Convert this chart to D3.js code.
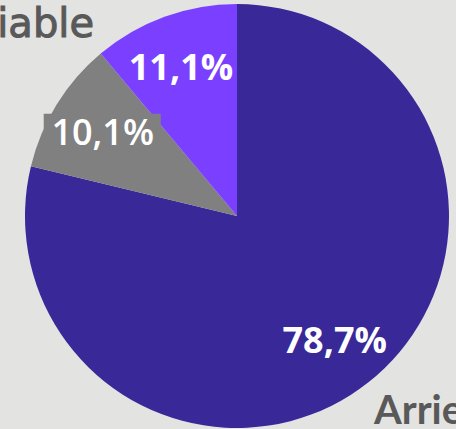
<!DOCTYPE html>
<html>
<head>
<meta charset="utf-8">
<script src="https://cdn.jsdelivr.net/npm/d3@7"></script>
<style>
    html, body { margin: 0; padding: 0; background: #e3e3e2; }
    svg { display: block; }
</style>
</head>
<body>
<div id="chart"></div>
<script>
// share per category, clockwise from 12 o'clock
var categories = ["Arriere", "Autre", "Fiable"];
var values = [78.7, 10.1, 11.1];
var colors = ["#382898", "#808080", "#7b40ff"];

var w = 456, h = 429;
var cx = 237, cy = 216, radius = 212;

var svg = d3.select("#chart").append("svg")
    .attr("width", w).attr("height", h)
    .attr("viewBox", "0 0 " + w + " " + h);

var pie = d3.pie().sort(null).value(function (d) { return d; });
var arcs = pie(values);

var arc = d3.arc().innerRadius(0).outerRadius(radius);
var labelArc = d3.arc().innerRadius(158).outerRadius(158);

var g = svg.append("g").attr("transform", "translate(" + cx + "," + cy + ")");

g.selectAll("path.slice")
    .data(arcs).enter().append("path")
    .attr("class", "slice")
    .attr("d", arc)
    .attr("fill", function (d, i) { return colors[i]; });

// label boxes (only the grey one shows against another slice)
g.selectAll("rect.lbox")
    .data(arcs).enter().append("rect")
    .attr("class", "lbox")
    .attr("x", function (d) { return labelArc.centroid(d)[0] - 59; })
    .attr("y", function (d) { return labelArc.centroid(d)[1] - 19; })
    .attr("width", 117)
    .attr("height", 44)
    .attr("fill", function (d, i) { return i == 1 ? colors[i] : "none"; });

g.selectAll("text.pct")
    .data(arcs).enter().append("text")
    .attr("class", "pct")
    .attr("x", function (d, i) { return labelArc.centroid(d)[0] - (i == 2 ? 2 : 0); })
    .attr("y", function (d) { return labelArc.centroid(d)[1]; })
    .attr("dy", "0.35em")
    .attr("text-anchor", "middle")
    .attr("fill", "#ffffff")
    .attr("font-family", "'Open Sans', sans-serif")
    .attr("font-weight", function (d, i) { return i == 1 ? 600 : 700; })
    .attr("font-size", 36)
    .text(function (d) { return d.value.toFixed(1).replace(".", ",") + "%"; });

// category names, cut by the edge of the picture as in the source
svg.append("text")
    .attr("x", 94).attr("y", 37)
    .attr("text-anchor", "end")
    .attr("fill", "#595959")
    .attr("stroke", "#595959")
    .attr("stroke-width", 1)
    .attr("font-family", "'DejaVu Sans', sans-serif")
    .attr("font-size", 40)
    .text(categories[2]);

svg.append("text")
    .attr("x", 374).attr("y", 424)
    .attr("fill", "#595959")
    .attr("font-family", "Lato, sans-serif")
    .attr("font-weight", 700)
    .attr("font-size", 40)
    .text(categories[0]);
</script>
</body>
</html>
